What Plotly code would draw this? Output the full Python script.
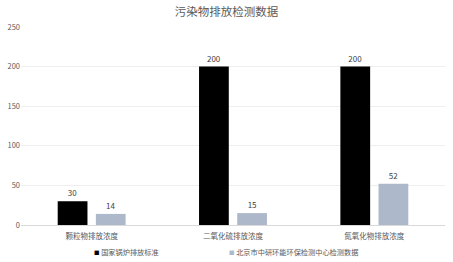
import plotly.graph_objects as go

categories = ["颗粒物排放浓度", "二氧化硫排放浓度", "氮氧化物排放浓度"]
standard_values = [30, 200, 200]
measured_values = [14, 15, 52]
series_names = ["国家锅炉排放标准", "北京市中研环能环保检测中心检测数据"]
series_colors = ["#000000", "#adb9ca"]
y_ticks = [0, 50, 100, 150, 200, 250]

FONT = "Noto Sans CJK SC, Noto Sans, sans-serif"
PLOT_L, PLOT_W, PLOT_H = 21, 424, 198

fig = go.Figure()
for name, vals, color in zip(series_names, [standard_values, measured_values], series_colors):
    fig.add_trace(go.Bar(
        x=categories, y=vals, name=name, showlegend=False,
        marker=dict(color=color, line=dict(width=0)),
        text=vals, textposition="outside", cliponaxis=False,
        textfont=dict(size=8, color="#404040", family=FONT),
    ))

# legend row: small coloured square key followed by the series name
legend_left_px = [92, 227]
for name, color, left in zip(series_names, series_colors, legend_left_px):
    fig.add_annotation(
        xref="paper", yref="paper",
        x=(left - PLOT_L) / PLOT_W, y=-27 / PLOT_H,
        xanchor="left", yanchor="middle", showarrow=False,
        text=f"<span style='color:{color};font-size:5.5px'>■</span> {name}",
        font=dict(size=7.2, color="#595959", family=FONT),
    )

fig.update_layout(
    width=453, height=262,
    margin=dict(l=21, r=8, t=27, b=37, autoexpand=False),
    paper_bgcolor="white", plot_bgcolor="white",
    font=dict(family=FONT, size=8, color="#595959"),
    title=dict(text="污染物排放检测数据", x=0.5, xanchor="center", y=0.955, yanchor="middle",
               font=dict(size=11.5, color="#595959", family=FONT)),
    barmode="group", bargap=0.46, bargroupgap=0.22,
    showlegend=False,
    xaxis=dict(showline=True, linecolor="#d9d9d9", linewidth=1, ticks="",
               ticklabelstandoff=4, tickfont=dict(size=7.5, color="#595959")),
    yaxis=dict(range=[0, 250], tickvals=y_ticks, showgrid=True, gridcolor="#eeeeee",
               gridwidth=1, zeroline=False, showline=False, ticks="",
               tickfont=dict(size=7.5, color="#595959")),
)

fig.write_html("out.html")
